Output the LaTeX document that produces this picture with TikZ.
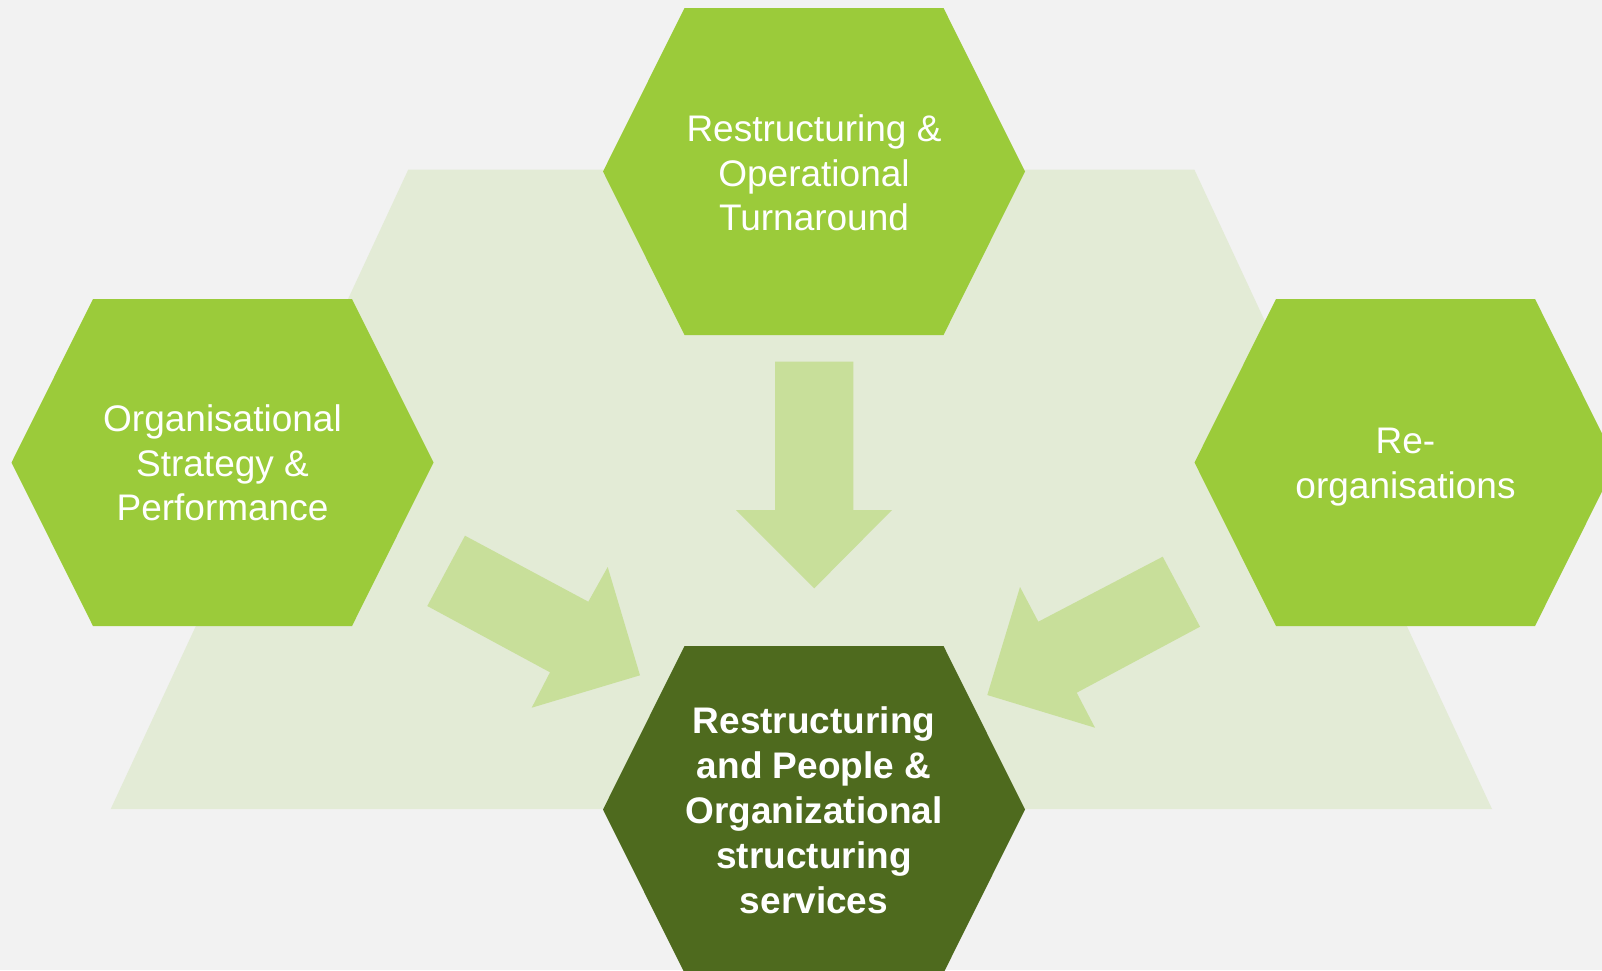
\documentclass[tikz,border=0pt]{standalone}
\usepackage{fontspec}
\setmainfont{Liberation Sans}
\definecolor{pagebg}{HTML}{F2F2F2}
\definecolor{trapbg}{HTML}{E3EBD6}
\definecolor{hexlight}{HTML}{9BCB3A}
\definecolor{hexdark}{HTML}{4E6A1E}
\definecolor{arrowfill}{HTML}{C8DF9A}
\tikzset{
  hexshape/.pic={\fill (-211,0) -- (-129.5,-163.5) -- (129.5,-163.5) -- (211,0) -- (129.5,163.5) -- (-129.5,163.5) -- cycle;},
  hextext/.style={text=white, align=center, inner sep=0pt, font=\fontsize{37}{44.5}\selectfont},
  hexbold/.style={hextext, font=\fontsize{37}{45}\selectfont\bfseries},
  blockarrow/.style={fill=arrowfill}
}
\begin{document}
\begin{tikzpicture}[x=1pt,y=-1pt]
\useasboundingbox (0,0) rectangle (1602,970);
\clip (0,0) rectangle (1602,970);
\fill[pagebg] (0,0) rectangle (1602,970);
% background trapezoid
\fill[trapbg] (408.3,169.5) -- (1194.3,169.5) -- (1492,809) -- (110.7,809) -- cycle;
% hexagons
\pic[fill=hexlight] at (814,171.5) {hexshape};
\pic[fill=hexlight] at (222.5,462.5) {hexshape};
\pic[fill=hexlight] at (1405.5,462.5) {hexshape};
\pic[fill=hexdark] at (814,809.5) {hexshape};
% block arrows
\fill[blockarrow] (775,361.7) -- (853.3,361.7) -- (853.3,510) -- (892,510) -- (814.3,588.3) -- (736,510) -- (775,510) -- cycle;
\fill[blockarrow] (465,535.7) -- (588.3,601.7) -- (607.7,567) -- (640,675.3) -- (531.7,707.7) -- (550,672.3) -- (427.3,606) -- cycle;
\fill[blockarrow] (1162.7,556.7) -- (1200,626.7) -- (1076.7,692.7) -- (1095,727.7) -- (987.3,695) -- (1020,587) -- (1038.3,621.7) -- cycle;
% texts
\node[hextext] (top) at (814,173) {Restructuring \&\\Operational\\Turnaround};
\node[hextext] (left) at (222.5,463) {Organisational\\Strategy \&\\Performance};
\node[hextext] (right) at (1405.5,467) {Re-\\organisations};
\node[hexbold] (centre) at (814,810) {Restructuring\\and People \&\\Organizational\\structuring\\services};
\end{tikzpicture}
\end{document}
